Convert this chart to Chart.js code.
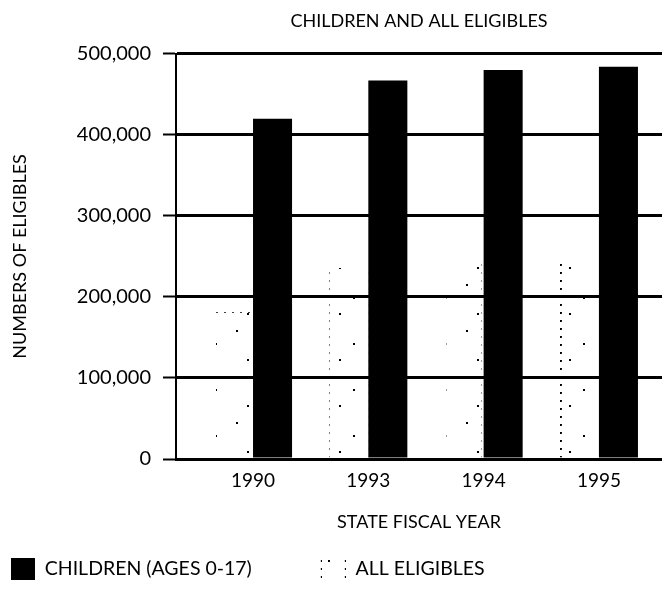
<!DOCTYPE html>
<html>
<head>
<meta charset="utf-8">
<title>Children and All Eligibles</title>
<script src="https://cdn.jsdelivr.net/npm/chart.js@4.4.1/dist/chart.umd.min.js"></script>
<style>
  html, body { margin: 0; padding: 0; background: #fff; }
  #wrap { width: 662px; height: 603px; }
</style>
</head>
<body>
<div id="wrap"><canvas id="chart"></canvas></div>
<script>
const YEARS = ['1990', '1993', '1994', '1995'];
const CHILDREN = [420000, 467000, 480000, 484000];
const ALL_ELIGIBLES = [183000, 238000, 243000, 244000];
const Y_TICKS = [0, 100000, 200000, 300000, 400000, 500000];

// legend sits further left than the y axis box, so the left padding is negative
const PAD_LEFT = -59;
const PLOT_LEFT = 176;

// sparse speckle used for the "all eligibles" bars
function dotPattern(size, dots) {
  const tile = document.createElement('canvas');
  tile.width = size;
  tile.height = size;
  const ctx = tile.getContext('2d');
  ctx.fillStyle = '#000';
  dots.forEach(([x, y]) => ctx.fillRect(x, y, 2, 2));
  return ctx.createPattern(tile, 'repeat');
}

const speckle = dotPattern(46, [[6, 8], [31, 21], [17, 37]]);
const dottedEdge = dotPattern(8, [[0, 0]]);

Chart.defaults.font.family = 'Lato, "DejaVu Sans", sans-serif';
Chart.defaults.font.size = 18;
Chart.defaults.color = '#000';

new Chart(document.getElementById('chart'), {
  type: 'bar',
  data: {
    datasets: [
      {
        label: 'ALL ELIGIBLES',
        data: ALL_ELIGIBLES.map((value, i) => ({ x: i, y: value })),
        backgroundColor: speckle,
        borderColor: dottedEdge,
        borderWidth: 2,
        borderSkipped: 'bottom'
      },
      {
        label: 'CHILDREN (AGES 0-17)',
        data: CHILDREN.map((value, i) => ({ x: i, y: value })),
        backgroundColor: '#000',
        borderWidth: 0
      }
    ]
  },
  options: {
    responsive: true,
    maintainAspectRatio: false,
    animation: false,
    categoryPercentage: 0.677,
    barPercentage: 1,
    layout: { padding: { left: PAD_LEFT, right: 0, top: 0, bottom: 13 } },
    scales: {
      x: {
        type: 'linear',
        offset: false,
        min: -0.668,
        max: 3.547,
        afterBuildTicks: (scale) => {
          scale.ticks = YEARS.map((_, i) => ({ value: i }));
        },
        grid: { display: false, drawTicks: false, offset: false },
        border: { display: true, color: '#000', width: 3 },
        ticks: {
          padding: 10,
          autoSkip: false,
          maxRotation: 0,
          font: { size: 19 },
          callback: (value) => YEARS[value]
        },
        title: {
          display: true,
          text: 'STATE FISCAL YEAR',
          padding: { top: 9.4, bottom: -44.8 }
        }
      },
      y: {
        min: 0,
        max: 500000,
        afterBuildTicks: (scale) => {
          scale.ticks = Y_TICKS.map((value) => ({ value }));
        },
        afterFit: (scale) => {
          scale.width = PLOT_LEFT - PAD_LEFT;
        },
        grid: { color: '#000', lineWidth: 3, tickLength: 13, tickWidth: 2, tickColor: '#000' },
        border: { display: true, color: '#000', width: 2 },
        ticks: {
          padding: 12,
          font: { size: 20 },
          callback: (value) => value.toLocaleString('en-US')
        },
        title: {
          display: true,
          text: 'NUMBERS OF ELIGIBLES',
          padding: { top: 68 }
        }
      }
    },
    plugins: {
      title: {
        display: true,
        text: 'CHILDREN AND ALL ELIGIBLES',
        fullSize: false,
        font: { size: 18, weight: 'normal' },
        padding: { top: 10.6, bottom: 21.6 }
      },
      legend: {
        position: 'bottom',
        align: 'start',
        reverse: true,
        labels: { boxWidth: 24, boxHeight: 22, padding: 70, font: { size: 19.5 } }
      },
      tooltip: { enabled: false }
    }
  }
});
</script>
</body>
</html>
